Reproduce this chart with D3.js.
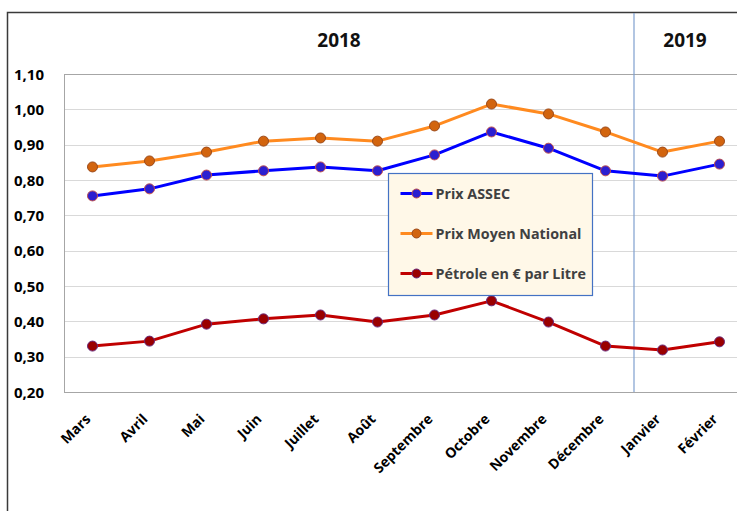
<!DOCTYPE html>
<html lang="fr">
<head>
<meta charset="utf-8">
<script src="https://d3js.org/d3.v7.min.js"></script>
<style>
  body { margin: 0; background: #fff; }
  svg { display: block; font-family: "Open Sans", "Noto Sans", sans-serif; }
</style>
</head>
<body>
<svg></svg>
<script>
    const width = 737, height = 511;

    // data
    const months = ["Mars", "Avril", "Mai", "Juin", "Juillet", "Août", "Septembre", "Octobre", "Novembre", "Décembre", "Janvier", "Février"];
    const prixAssec = [0.755, 0.775, 0.814, 0.826, 0.837, 0.826, 0.871, 0.936, 0.89, 0.826, 0.811, 0.845];
    const prixNational = [0.837, 0.854, 0.879, 0.91, 0.919, 0.91, 0.953, 1.015, 0.987, 0.936, 0.879, 0.91];
    const petrole = [0.33, 0.344, 0.392, 0.407, 0.418, 0.398, 0.418, 0.458, 0.398, 0.33, 0.319, 0.342];
    const yTicks = [0.2, 0.3, 0.4, 0.5, 0.6, 0.7, 0.8, 0.9, 1.0, 1.1];
    const years = [{ label: "2018", from: "Mars", to: "Décembre" }, { label: "2019", from: "Janvier", to: "Février" }];

    const series = [
        { name: "Prix ASSEC", values: prixAssec, line: "#0000FF", fill: "#2B1FD0", stroke: "#C0504D" },
        { name: "Prix Moyen National", values: prixNational, line: "#FF8A1F", fill: "#D2640E", stroke: "#9C4A1A" },
        { name: "Pétrole en € par Litre", values: petrole, line: "#C00000", fill: "#9A0000", stroke: "#6A2A7A" }
    ];

    const plot = { left: 64, top: 74, right: 748, bottom: 392 };

    const svg = d3.select("svg").attr("width", width).attr("height", height);

    // outer frame
    svg.append("path")
        .attr("d", `M7.5,${height} V12.5 H${width}`)
        .attr("fill", "none")
        .attr("stroke", "#3a3a3a")
        .attr("stroke-width", 1.5);

    const x = d3.scaleBand().domain(months).range([plot.left, plot.right]);
    const y = d3.scaleLinear().domain([0.2, 1.1]).range([plot.bottom, plot.top]);
    const cx = (m) => x(m) + x.bandwidth() / 2;

    // gridlines
    svg.append("g")
        .selectAll("line")
        .data(yTicks)
        .join("line")
        .attr("x1", plot.left)
        .attr("x2", plot.right)
        .attr("y1", (d) => Math.round(y(d)) + 0.5)
        .attr("y2", (d) => Math.round(y(d)) + 0.5)
        .attr("stroke", "#D9D9D9")
        .attr("stroke-width", 1);

    // plot area border
    svg.append("rect")
        .attr("x", plot.left + 0.5)
        .attr("y", plot.top + 0.5)
        .attr("width", plot.right - plot.left)
        .attr("height", plot.bottom - plot.top)
        .attr("fill", "none")
        .attr("stroke", "#A6A6A6");

    // y axis labels
    const yAxis = svg.append("g")
        .attr("transform", `translate(${plot.left - 20},0)`)
        .call(d3.axisLeft(y).tickValues(yTicks).tickSize(0).tickPadding(0)
            .tickFormat((d) => d3.format(".2f")(d).replace(".", ",")));
    yAxis.select(".domain").remove();
    yAxis.selectAll("text")
        .attr("font-family", "Open Sans, sans-serif")
        .attr("font-size", 15)
        .attr("font-weight", "bold")
        .attr("fill", "#000")
        .attr("dy", "0.35em");

    // x axis labels
    const xAxis = svg.append("g")
        .attr("transform", `translate(-1,${plot.bottom + 28})`)
        .call(d3.axisBottom(x).tickSize(0).tickPadding(0));
    xAxis.select(".domain").remove();
    xAxis.selectAll("text")
        .attr("font-family", "Open Sans, sans-serif")
        .attr("font-size", 14)
        .attr("font-weight", "bold")
        .attr("fill", "#000")
        .attr("text-anchor", "end")
        .attr("y", 0)
        .attr("dy", 0)
        .attr("transform", "rotate(-45)");

    // year separator
    const sepX = x("Janvier");
    svg.append("line")
        .attr("x1", sepX).attr("x2", sepX)
        .attr("y1", 13).attr("y2", plot.bottom)
        .attr("stroke", "#7F9FCF")
        .attr("stroke-width", 1.2);

    // year labels
    svg.append("g")
        .selectAll("text")
        .data(years)
        .join("text")
        .attr("x", (d) => d.label === "2018" ? (x(d.from) + x(d.to) + x.bandwidth()) / 2 - 10 : (x(d.from) + x(d.to) + x.bandwidth()) / 2 - 6)
        .attr("y", 47)
        .attr("text-anchor", "middle")
        .attr("font-size", 19)
        .attr("font-weight", "bold")
        .attr("fill", "#111")
        .text((d) => d.label);

    // lines + markers
    const line = d3.line()
        .x((d, i) => cx(months[i]))
        .y((d) => y(d));

    series.forEach((s) => {
        const g = svg.append("g");
        g.append("path")
            .datum(s.values)
            .attr("d", line)
            .attr("fill", "none")
            .attr("stroke", s.line)
            .attr("stroke-width", 3)
            .attr("stroke-linejoin", "round");
        g.selectAll("circle")
            .data(s.values)
            .join("circle")
            .attr("cx", (d, i) => cx(months[i]))
            .attr("cy", (d) => y(d))
            .attr("r", 5)
            .attr("fill", s.fill)
            .attr("stroke", s.stroke)
            .attr("stroke-width", 1);
    });

    // legend
    const legend = svg.append("g").attr("transform", "translate(388.5,173.5)");
    legend.append("rect")
        .attr("width", 204)
        .attr("height", 122)
        .attr("fill", "#FFF8E8")
        .attr("stroke", "#4472C4")
        .attr("stroke-width", 1.2);
    const entry = legend.selectAll("g.entry")
        .data(series)
        .join("g")
        .attr("class", "entry")
        .attr("transform", (d, i) => `translate(0,${20 + i * 40})`);
    entry.append("line")
        .attr("x1", 12).attr("x2", 44)
        .attr("stroke", (d) => d.line)
        .attr("stroke-width", 3);
    entry.append("circle")
        .attr("cx", 28)
        .attr("r", 4.5)
        .attr("fill", (d) => d.fill)
        .attr("stroke", (d) => d.stroke);
    entry.append("text")
        .attr("x", 47)
        .attr("dy", "0.35em")
        .attr("font-size", 14.3)
        .attr("font-weight", "bold")
        .attr("fill", "#404040")
        .text((d) => d.name);
</script>
</body>
</html>
